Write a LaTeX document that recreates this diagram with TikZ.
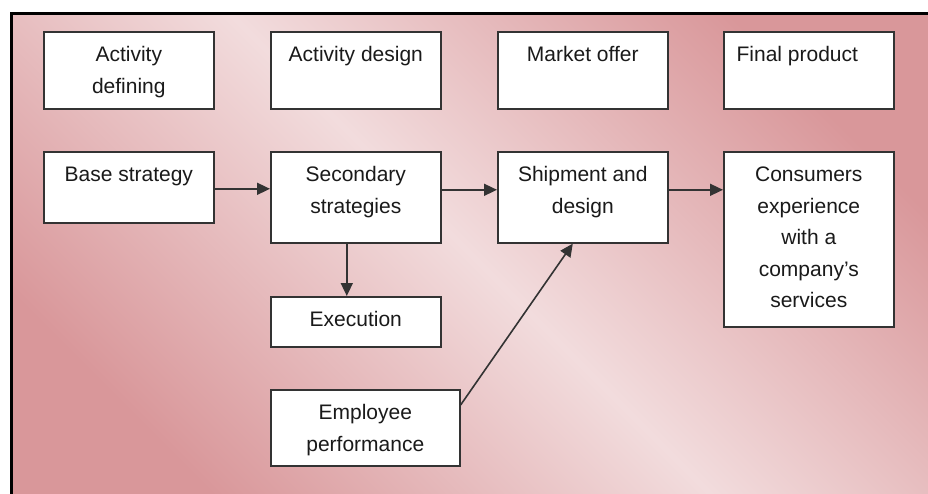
\documentclass[tikz,border=0pt]{standalone}
\usepackage{fontspec}
\setmainfont{Liberation Sans}
\usetikzlibrary{arrows.meta,calc}
\definecolor{bgdark}{HTML}{D9979A}
\definecolor{bglight}{HTML}{F2DCDD}
\definecolor{boxline}{HTML}{333333}
\definecolor{lineclr}{HTML}{333333}
\definecolor{txtclr}{HTML}{1A1A1A}
\newcommand{\boxtxt}[3]{\parbox[t][#2pt][t]{#1pt}{\fontsize{21}{31.5}\selectfont\color{txtclr}\centering\rule{0pt}{30pt}#3\par}}
\begin{document}
\begin{tikzpicture}[x=1pt,y=-1pt,
  stepbox/.style={draw=boxline,fill=white,line width=1.6pt,inner sep=0pt,anchor=north west},
  conn/.style={draw=lineclr,line width=1.6pt,-{Triangle[length=13pt,width=12pt]}}]
\useasboundingbox (0,0) rectangle (928,493);
\fill[white] (0,0) rectangle (928,493);
\begin{scope}
  \clip (0,0) rectangle (928,493);
  \shade[top color=bgdark,bottom color=bgdark,middle color=bglight,shading angle=-45] (11.5,13.5) rectangle (940,505);
  \draw[black,line width=3pt] (11.5,505) -- (11.5,13.5) -- (940,13.5);
\end{scope}
% top row
\node[stepbox] (ad)   at (43,31)  {\boxtxt{170}{77}{Activity\\defining}};
\node[stepbox] (ades) at (270,31) {\boxtxt{170}{77}{Activity design}};
\node[stepbox] (mo)   at (497,31) {\boxtxt{170}{77}{Market offer}};
\node[stepbox] (fp)   at (723,31) {\boxtxt{170}{77}{Final product\kern23pt}};
% second row
\node[stepbox] (base) at (43,151)  {\boxtxt{170}{71}{Base strategy}};
\node[stepbox] (sec)  at (270,151) {\boxtxt{170}{91}{Secondary\\strategies}};
\node[stepbox] (ship) at (497,151) {\boxtxt{170}{91}{Shipment and\\design}};
\node[stepbox] (cons) at (723,151) {\boxtxt{170}{175}{Consumers\\experience\\with a\\company’s\\services}};
\node[stepbox] (exe)  at (270,296) {\boxtxt{170}{50}{Execution}};
\node[stepbox] (emp)  at (270,389) {\boxtxt{189}{76}{Employee\\performance}};
% connectors
\draw[conn] ([yshift=-1.5pt]base.east) -- ([yshift=-1.5pt]base.east -| sec.west);
\draw[conn] ([yshift=7.5pt]sec.east) -- ([yshift=7.5pt]sec.east -| ship.west);
\draw[conn] ([yshift=7.5pt]ship.east) -- ([yshift=7.5pt]ship.east -| cons.west);
\draw[conn] ([xshift=-9pt]sec.south) -- ([xshift=-9pt]sec.south |- exe.north);
\draw[conn] ([yshift=-16pt]emp.north east) -- ([xshift=-10pt]ship.south);
\end{tikzpicture}
\end{document}
